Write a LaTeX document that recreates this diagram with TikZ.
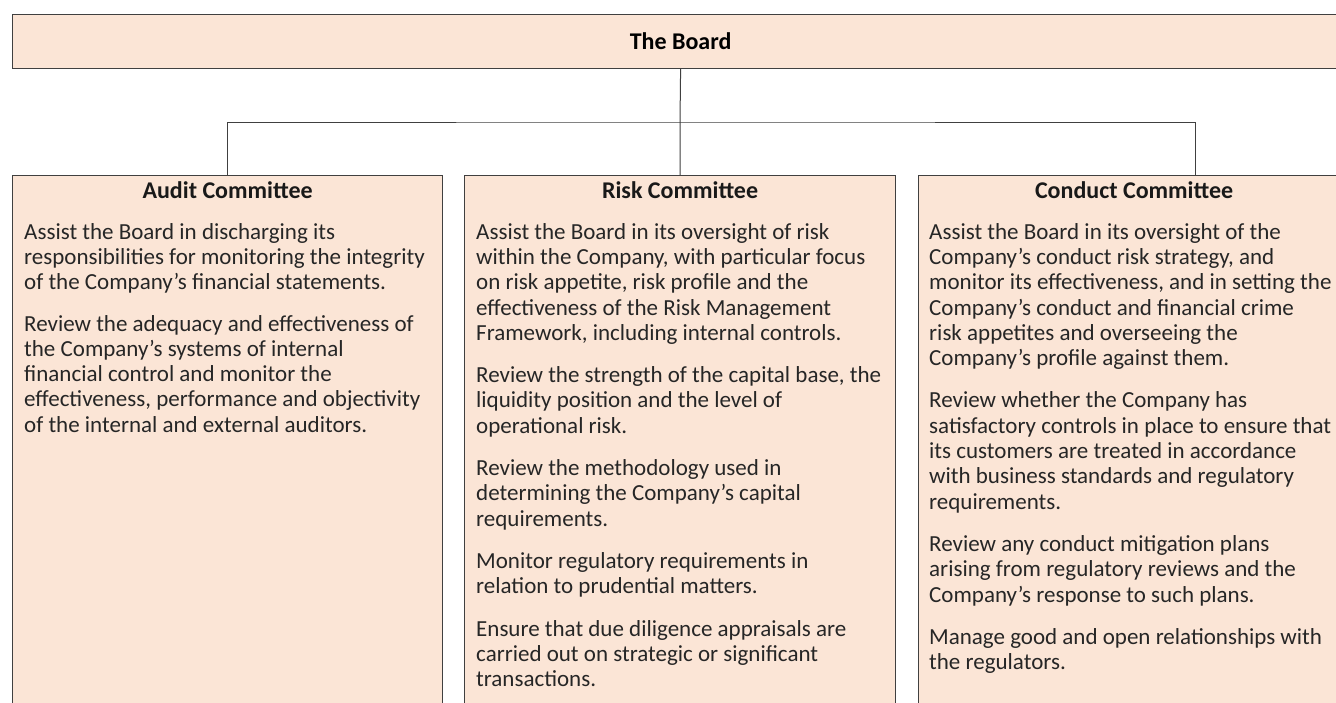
\documentclass[tikz,border=0pt]{standalone}
\usepackage{fontspec}
\setmainfont{Carlito}
\usetikzlibrary{positioning}
\definecolor{peach}{HTML}{FBE5D6}
\definecolor{rim}{HTML}{404040}
\tikzset{
    boxstyle/.style={draw=rim, line width=1.2pt, fill=peach, inner sep=0pt},
    headtext/.style={font=\fontsize{24}{26}\selectfont\bfseries, text=black!90, inner sep=0pt},
    bodytext/.style={font=\fontsize{23}{25.3}\selectfont, text=black!85, align=left, inner sep=0pt},
    link/.style={draw=rim, line width=1pt}
}

\begin{document}
\begin{tikzpicture}[x=1pt, y=-1pt]
                \useasboundingbox (0,0) rectangle (1336,702);
                \fill[white] (0,0) rectangle (1336,702);
                \clip (0,0) rectangle (1336,702);
                \begin{scope}
                    % top box
                    \node[boxstyle, anchor=north west, minimum width=1336pt, minimum height=54pt,
                          font=\fontsize{24}{26}\selectfont\bfseries] (board) at (12,14) {The Board};
                    
                    % committee boxes
                    \node[boxstyle, anchor=north west, minimum width=430pt, minimum height=600pt] (audit) at (12,175) {};
                    \node[boxstyle, anchor=north west, minimum width=431pt, minimum height=600pt] (risk) at (464,175) {};
                    \node[boxstyle, anchor=north west, minimum width=431pt, minimum height=600pt] (conduct) at (918,175) {};
                    
                    % connectors
                    \coordinate (bus) at (680,122);
                    \coordinate (conducttop) at (1195,175);
                    \draw[link] (board.south) -- (bus);
                    \draw[link] (audit.north) |- (bus) -| (conducttop);
                    \draw[link] (bus) -- (risk.north);
                    
                    % headings
                    \node[headtext, anchor=base, yshift=-23.5pt] (audithead) at (audit.north) {Audit Committee};
                    \node[headtext, anchor=base, yshift=-23.5pt] (riskhead) at (risk.north) {Risk Committee};
                    \node[headtext, anchor=base, yshift=-23.5pt] (conducthead) at (conduct.north) {Conduct Committee};
                    
                    % texts
                    \node[bodytext, anchor=north west, xshift=12pt, yshift=-48pt] (audittext) at (audit.north west) {%
                        Assist the Board in discharging its\\
                        responsibilities for monitoring the integrity\\
                        of the Company’s financial statements.\\[16pt]
                        Review the adequacy and effectiveness of\\
                        the Company’s systems of internal\\
                        financial control and monitor the\\
                        effectiveness, performance and objectivity\\
                        of the internal and external auditors.};
                    \node[bodytext, anchor=north west, xshift=12pt, yshift=-48pt] (risktext) at (risk.north west) {%
                        Assist the Board in its oversight of risk\\
                        within the Company, with particular focus\\
                        on risk appetite, risk profile and the\\
                        effectiveness of the Risk Management\\
                        Framework, including internal controls.\\[17pt]
                        Review the strength of the capital base, the\\
                        liquidity position and the level of\\
                        operational risk.\\[17pt]
                        Review the methodology used in\\
                        determining the Company’s capital\\
                        requirements.\\[17pt]
                        Monitor regulatory requirements in\\
                        relation to prudential matters.\\[17pt]
                        Ensure that due diligence appraisals are\\
                        carried out on strategic or significant\\
                        transactions.};
                    \node[bodytext, anchor=north west, xshift=11pt, yshift=-48pt] (conducttext) at (conduct.north west) {%
                        Assist the Board in its oversight of the\\
                        Company’s conduct risk strategy, and\\
                        monitor its effectiveness, and in setting the\\
                        Company’s conduct and financial crime\\
                        risk appetites and overseeing the\\
                        Company’s profile against them.\\[17pt]
                        Review whether the Company has\\
                        satisfactory controls in place to ensure that\\
                        its customers are treated in accordance\\
                        with business standards and regulatory\\
                        requirements.\\[17pt]
                        Review any conduct mitigation plans\\
                        arising from regulatory reviews and the\\
                        Company’s response to such plans.\\[17pt]
                        Manage good and open relationships with\\
                        the regulators.};
                \end{scope}
            \end{tikzpicture}
\end{document}
